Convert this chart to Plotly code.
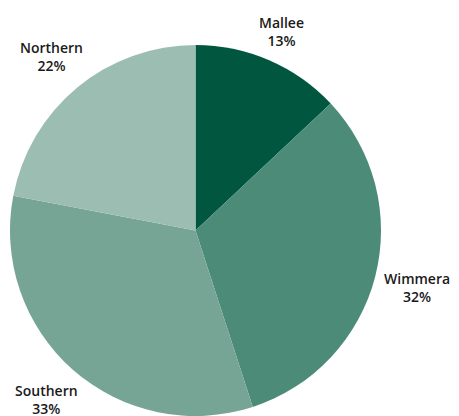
import math
import plotly.graph_objects as go

regions = ["Mallee", "Wimmera", "Southern", "Northern"]
shares = [13, 32, 33, 22]
colors = ["#00563F", "#4D8B79", "#76A595", "#9CBDB2"]

# page body has an 8px margin; the pie is placed to compensate for it
W, H = 451, 408
ml, mt = 2, 37
side = H - mt  # square pie domain in pixels
mr = W - ml - side

FONT_SIZE = 14
ADV = {"M": .89, "W": .93, "S": .55, "N": .74, "m": .93, "i": .26, "l": .26,
       "r": .41, "t": .35, "a": .56, "e": .56, "o": .60, "u": .61, "h": .61,
       "n": .61}


def text_width(s):
    return sum(ADV.get(c, .58) for c in s) * FONT_SIZE * 1.04


fig = go.Figure(go.Pie(
    labels=regions,
    values=shares,
    sort=False,
    direction="clockwise",
    rotation=0,
    marker=dict(colors=colors, line=dict(width=0)),
    textinfo="none",
    hoverinfo="label+percent",
    showlegend=False,
    domain=dict(x=[0, 1], y=[0, 1]),
))

# outside labels centred on each slice's mid-angle (pixel geometry)
total = sum(shares)
R = side / 2.0
cum = 0.0
half_h, gap = 18.0, 6.0
for name, v in zip(regions, shares):
    mid = (cum + v / 2.0) / total * 2 * math.pi
    cum += v
    dx, dy = math.sin(mid), math.cos(mid)
    hw = text_width(name) / 2.0
    dist = R + gap + hw * abs(dx) + half_h * abs(dy)
    x = 0.5 + dist * dx / side
    y = 0.5 + dist * dy / side
    fig.add_annotation(
        x=x, y=y, xref="paper", yref="paper",
        xanchor="center", yanchor="middle",
        text=f"{name}<br>{round(v / total * 100)}%",
        showarrow=False,
        font=dict(family="Open Sans", size=FONT_SIZE, color="#1a1a1a", weight=600),
        align="center",
    )

fig.update_layout(
    width=W,
    height=H,
    margin=dict(l=ml, r=mr, t=mt, b=0),
    paper_bgcolor="white",
    plot_bgcolor="white",
)

fig.write_html("out.html")
